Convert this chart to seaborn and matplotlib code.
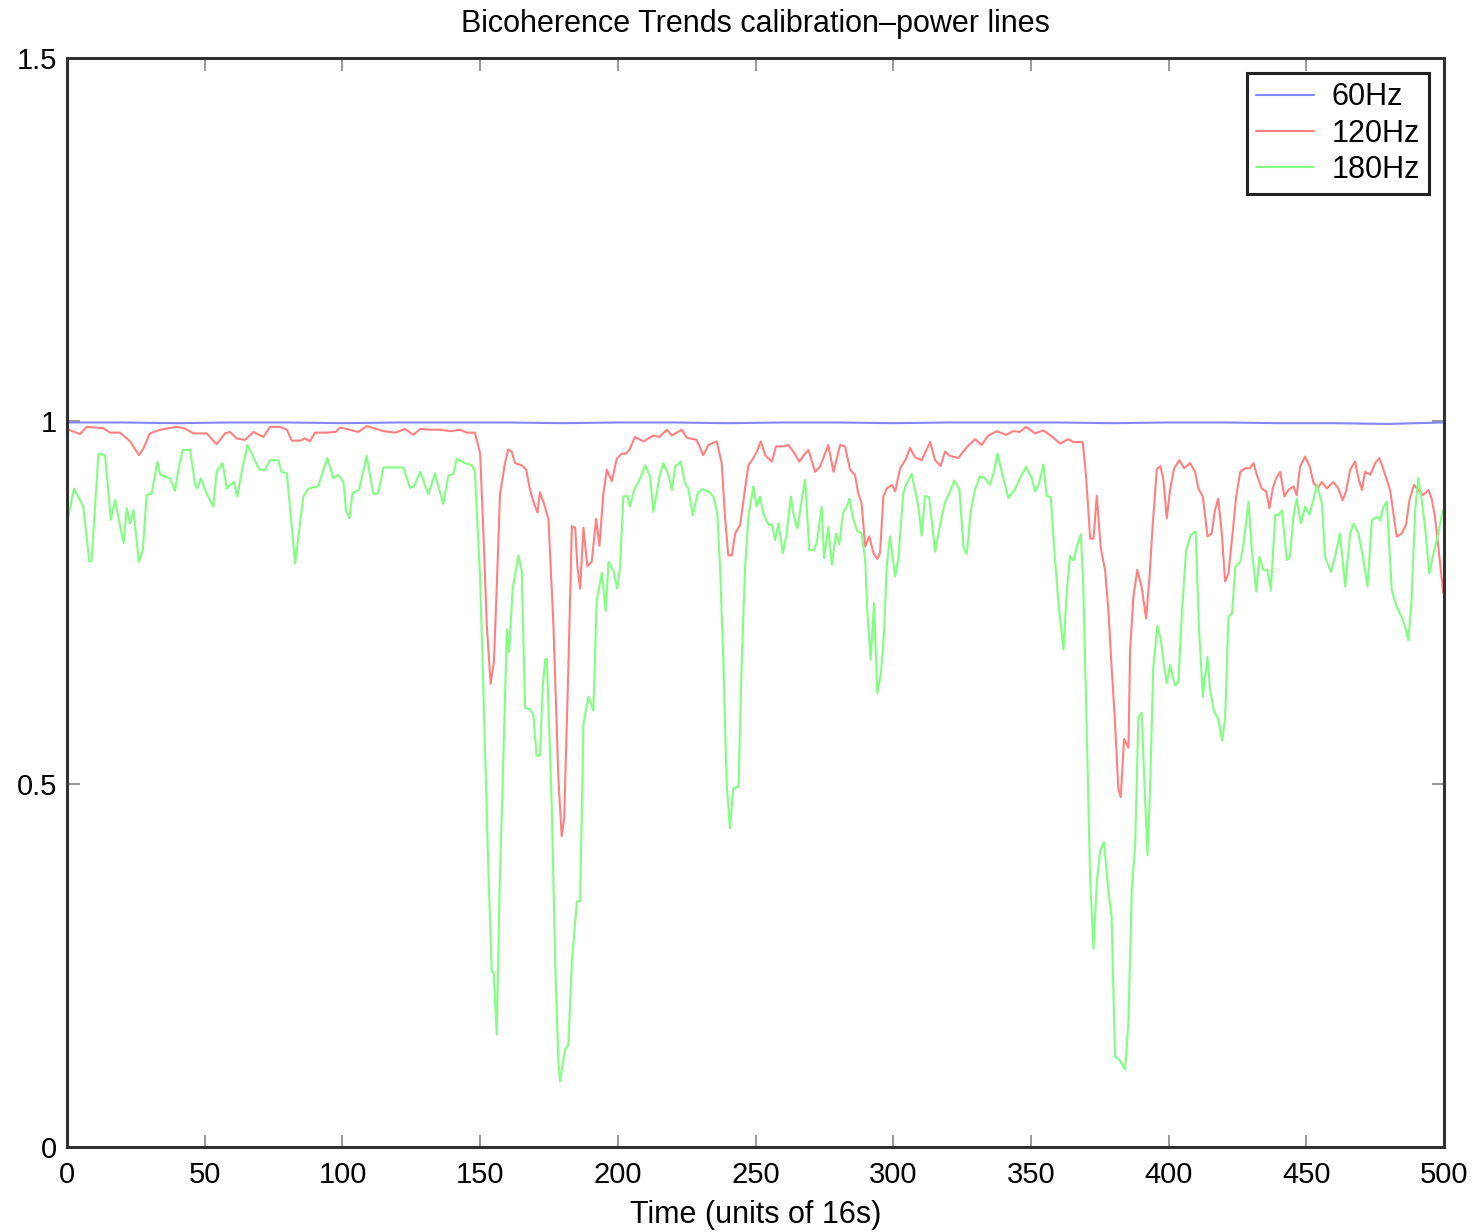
import pandas as pd
import matplotlib.pyplot as plt
import seaborn as sns

# Values
blue_t = [0, 20, 40, 60, 80, 100, 120, 140, 160, 180, 200, 220, 240, 260, 280, 300,
          320, 340, 360, 380, 400, 420, 440, 460, 480, 500]
blue_v = [0.998, 0.998, 0.997, 0.998, 0.998, 0.997, 0.998, 0.998, 0.998, 0.997, 0.998,
          0.998, 0.997, 0.998, 0.998, 0.997, 0.998, 0.998, 0.998, 0.997, 0.998, 0.998,
          0.997, 0.997, 0.996, 0.998]

red_t = [0, 0.5, 4.7, 7.1, 13.2, 15.6, 19.2, 22.9, 26.1, 27.7, 30.1, 33.8, 39.8, 42.5,
         45.9, 50.7, 54.3, 57.4, 59.2, 61.6, 64.6, 67.7, 71.3, 73.7, 77.3, 79.8, 81.6,
         84.6, 86.4, 88.2, 90.0, 94.3, 97.5, 99.1, 101.6, 105.8, 108.8, 111.5, 114.9,
         119.1, 122.7, 125.7, 128.2, 131.8, 135.5, 139.1, 142.7, 145.1, 148.1, 150.0,
         151.2, 152.4, 153.8, 155.0, 156.0, 157.2, 159.0, 160.2, 161.4, 162.7, 165.1,
         166.7, 168.1, 169.6, 170.8, 171.7, 173.2, 174.8, 176.6, 178.4, 179.6, 180.5,
         182.0, 183.3, 184.5, 185.3, 186.3, 187.5, 188.9, 190.5, 192.1, 193.3, 194.7,
         196.0, 197.8, 199.6, 201.4, 203.0, 204.4, 206.2, 209.3, 212.9, 215.0, 217.8,
         219.6, 223.2, 225.0, 228.6, 231.0, 232.9, 235.9, 237.7, 238.9, 240.1, 241.4,
         242.6, 244.4, 245.8, 247.4, 249.2, 250.5, 251.9, 253.5, 255.9, 257.4, 260.1,
         261.9, 263.7, 265.9, 267.5, 269.2, 271.6, 273.4, 276.4, 278.3, 280.7, 282.5,
         284.3, 286.1, 287.3, 288.5, 289.8, 291.3, 292.8, 294.2, 295.2, 296.4, 297.6,
         299.5, 300.7, 302.5, 304.5, 306.1, 307.9, 310.3, 313.4, 315.2, 317.2, 318.8,
         320.6, 323.6, 326.7, 329.7, 332.1, 334.5, 337.6, 340.9, 343.6, 346.0, 348.2,
         351.5, 354.5, 357.5, 360.6, 363.6, 365.4, 368.8, 370.0, 371.5, 372.7, 373.9,
         375.3, 376.9, 378.1, 379.3, 380.5, 381.7, 382.6, 383.8, 385.4, 386.0, 387.2,
         388.6, 390.2, 391.8, 393.0, 394.2, 395.7, 397.0, 398.1, 399.3, 400.5, 402.0,
         403.9, 405.6, 407.8, 409.6, 410.8, 412.4, 414.1, 415.6, 416.8, 418.0, 419.3,
         420.5, 421.7, 422.9, 424.5, 426.0, 427.7, 429.5, 430.8, 432.0, 433.8, 435.4,
         436.6, 437.8, 439.0, 440.5, 442.0, 443.5, 445.3, 446.5, 447.7, 449.5, 451.3,
         452.5, 454.0, 455.6, 457.4, 459.8, 461.6, 463.2, 464.4, 465.9, 467.7, 468.9,
         470.2, 471.3, 473.2, 475.0, 476.5, 478.0, 479.2, 480.4, 481.6, 482.8, 484.6,
         486.2, 487.4, 489.1, 490.6, 492.4, 494.3, 495.5, 496.7, 497.9, 499.7]
red_v = [0.988, 0.988, 0.982, 0.992, 0.990, 0.984, 0.984, 0.972, 0.953, 0.962, 0.983,
         0.988, 0.992, 0.990, 0.983, 0.983, 0.968, 0.983, 0.985, 0.976, 0.974, 0.985,
         0.978, 0.992, 0.992, 0.988, 0.973, 0.973, 0.976, 0.972, 0.984, 0.984, 0.985,
         0.991, 0.989, 0.985, 0.993, 0.990, 0.986, 0.984, 0.989, 0.981, 0.989, 0.988,
         0.988, 0.986, 0.988, 0.984, 0.984, 0.955, 0.843, 0.719, 0.638, 0.669, 0.769,
         0.899, 0.942, 0.961, 0.958, 0.942, 0.939, 0.933, 0.905, 0.886, 0.874, 0.902,
         0.886, 0.865, 0.719, 0.508, 0.428, 0.452, 0.657, 0.855, 0.853, 0.800, 0.769,
         0.853, 0.800, 0.806, 0.865, 0.828, 0.899, 0.933, 0.917, 0.948, 0.955, 0.955,
         0.962, 0.978, 0.972, 0.980, 0.978, 0.988, 0.980, 0.988, 0.977, 0.974, 0.953,
         0.967, 0.972, 0.942, 0.868, 0.815, 0.815, 0.845, 0.857, 0.896, 0.939, 0.949,
         0.958, 0.972, 0.953, 0.944, 0.965, 0.965, 0.967, 0.958, 0.944, 0.953, 0.960,
         0.930, 0.937, 0.967, 0.930, 0.967, 0.965, 0.933, 0.926, 0.900, 0.887, 0.827,
         0.841, 0.818, 0.810, 0.818, 0.896, 0.907, 0.912, 0.903, 0.935, 0.947, 0.963,
         0.950, 0.946, 0.971, 0.946, 0.938, 0.958, 0.952, 0.949, 0.964, 0.975, 0.967,
         0.980, 0.986, 0.981, 0.986, 0.985, 0.992, 0.983, 0.987, 0.979, 0.969, 0.975,
         0.971, 0.971, 0.924, 0.838, 0.838, 0.897, 0.826, 0.795, 0.740, 0.660, 0.586,
         0.494, 0.482, 0.562, 0.550, 0.685, 0.758, 0.795, 0.771, 0.728, 0.783, 0.857,
         0.934, 0.938, 0.919, 0.866, 0.905, 0.935, 0.946, 0.935, 0.942, 0.930, 0.907,
         0.896, 0.841, 0.845, 0.877, 0.893, 0.845, 0.779, 0.790, 0.834, 0.896, 0.930,
         0.935, 0.935, 0.942, 0.926, 0.907, 0.903, 0.880, 0.907, 0.921, 0.930, 0.896,
         0.905, 0.910, 0.898, 0.937, 0.951, 0.937, 0.916, 0.907, 0.916, 0.907, 0.916,
         0.907, 0.891, 0.903, 0.933, 0.944, 0.921, 0.905, 0.930, 0.926, 0.942, 0.949,
         0.933, 0.919, 0.905, 0.873, 0.841, 0.845, 0.857, 0.891, 0.912, 0.905, 0.898,
         0.905, 0.893, 0.868, 0.827, 0.763]

green_t = [0.5, 2.5, 5.9, 8.1, 8.9, 11.4, 13.8, 15.9, 17.4, 19.2, 20.5, 21.7, 22.9, 24.1,
           26.1, 27.5, 28.9, 30.7, 32.8, 33.8, 37.4, 39.2, 40.4, 42.0, 44.7, 46.5, 47.3,
           48.5, 50.7, 53.1, 54.3, 56.5, 58.0, 59.3, 60.6, 61.8, 63.4, 65.5, 67.1, 69.8,
           71.9, 73.7, 76.7, 77.9, 79.8, 82.8, 85.8, 87.6, 91.2, 92.5, 94.5, 96.7, 98.5,
           100.3, 101.3, 102.5, 103.7, 106.0, 108.8, 111.2, 113.0, 114.9, 117.3, 119.7,
           122.1, 124.5, 126.0, 128.2, 131.2, 133.6, 134.8, 136.6, 138.5, 140.3, 141.5,
           144.5, 147.0, 148.1, 150.0, 151.2, 153.0, 154.2, 154.9, 156.0, 157.0, 158.4,
           159.7, 160.5, 161.8, 163.9, 165.1, 166.3, 168.1, 169.3, 170.5, 171.7, 172.7,
           173.6, 174.2, 176.0, 177.2, 178.4, 179.0, 180.8, 182.0, 183.3, 185.1, 186.3,
           187.5, 189.3, 191.1, 192.3, 194.2, 195.6, 196.6, 198.4, 199.8, 200.8, 202.0,
           203.5, 204.4, 205.9, 208.1, 209.9, 211.7, 212.9, 215.1, 216.5, 218.3, 219.6,
           220.8, 222.8, 224.4, 225.6, 227.2, 228.9, 230.5, 232.9, 234.7, 236.1, 237.1,
           238.3, 239.5, 240.7, 241.9, 243.8, 245.0, 246.2, 247.4, 249.2, 250.4, 251.6,
           252.8, 254.7, 255.9, 257.1, 258.3, 259.9, 261.3, 262.8, 263.7, 265.2, 266.8,
           268.0, 269.5, 271.0, 272.2, 274.0, 274.9, 276.4, 277.7, 279.2, 280.4, 281.7,
           283.1, 284.1, 285.3, 287.0, 288.5, 289.8, 290.6, 291.8, 293.0, 294.2, 295.5,
           296.7, 297.6, 298.8, 300.7, 301.9, 303.6, 304.6, 306.7, 307.9, 309.1, 310.3,
           311.5, 313.0, 315.2, 317.0, 318.8, 320.6, 322.1, 324.0, 325.5, 326.7, 328.1,
           329.7, 331.5, 333.3, 335.1, 336.6, 337.8, 339.4, 341.8, 344.2, 346.0, 348.2,
           350.3, 351.5, 352.8, 354.5, 355.7, 357.2, 358.4, 359.9, 361.8, 363.0, 364.2,
           365.4, 366.6, 368.1, 369.0, 370.3, 371.5, 372.7, 373.9, 375.1, 376.5, 378.1,
           379.3, 380.5, 382.3, 384.2, 385.4, 386.6, 387.8, 389.0, 390.2, 391.4, 392.3,
           393.2, 394.4, 395.9, 397.1, 398.4, 399.3, 400.5, 402.3, 403.5, 404.8, 406.3,
           408.0, 409.8, 411.0, 412.4, 414.1, 415.0, 416.5, 418.0, 419.4, 420.5, 421.7,
           423.0, 424.2, 426.0, 427.2, 429.0, 430.2, 431.8, 433.0, 434.4, 435.8, 437.1,
           438.7, 439.8, 441.1, 442.9, 444.0, 445.3, 446.5, 448.0, 449.5, 451.1, 452.5,
           453.8, 455.6, 456.8, 458.9, 460.4, 462.2, 464.1, 465.9, 467.1, 468.9, 470.7,
           472.2, 473.8, 475.6, 476.8, 478.0, 479.2, 481.0, 482.8, 484.6, 485.8, 487.0,
           488.2, 489.5, 490.6, 491.9, 493.1, 494.6, 496.3, 497.9, 499.5, 500.0]
green_v = [0.868, 0.907, 0.882, 0.806, 0.808, 0.955, 0.953, 0.864, 0.891, 0.857, 0.832,
           0.880, 0.859, 0.877, 0.806, 0.822, 0.898, 0.900, 0.944, 0.926, 0.921, 0.904,
           0.933, 0.960, 0.960, 0.912, 0.907, 0.921, 0.900, 0.882, 0.930, 0.942, 0.907,
           0.912, 0.916, 0.896, 0.930, 0.967, 0.955, 0.933, 0.933, 0.946, 0.946, 0.930,
           0.928, 0.804, 0.896, 0.907, 0.910, 0.926, 0.949, 0.921, 0.926, 0.916, 0.877,
           0.866, 0.901, 0.905, 0.952, 0.899, 0.901, 0.936, 0.936, 0.936, 0.936, 0.908,
           0.910, 0.930, 0.899, 0.928, 0.910, 0.886, 0.925, 0.927, 0.948, 0.942, 0.939,
           0.930, 0.781, 0.626, 0.378, 0.242, 0.240, 0.155, 0.347, 0.533, 0.713, 0.682,
           0.769, 0.815, 0.793, 0.605, 0.603, 0.595, 0.539, 0.539, 0.632, 0.672, 0.672,
           0.471, 0.260, 0.118, 0.090, 0.134, 0.140, 0.254, 0.338, 0.339, 0.583, 0.620,
           0.601, 0.753, 0.791, 0.738, 0.806, 0.793, 0.769, 0.800, 0.896, 0.897, 0.882,
           0.905, 0.921, 0.939, 0.923, 0.875, 0.923, 0.942, 0.926, 0.905, 0.937, 0.944,
           0.914, 0.907, 0.870, 0.900, 0.906, 0.903, 0.896, 0.873, 0.799, 0.671, 0.501,
           0.439, 0.494, 0.496, 0.671, 0.799, 0.868, 0.910, 0.882, 0.896, 0.873, 0.857,
           0.858, 0.836, 0.859, 0.818, 0.845, 0.896, 0.873, 0.852, 0.892, 0.919, 0.822,
           0.822, 0.832, 0.882, 0.811, 0.854, 0.802, 0.845, 0.830, 0.873, 0.882, 0.893,
           0.868, 0.848, 0.845, 0.809, 0.735, 0.671, 0.749, 0.625, 0.652, 0.712, 0.799,
           0.841, 0.786, 0.813, 0.900, 0.912, 0.927, 0.905, 0.882, 0.842, 0.897, 0.895,
           0.820, 0.857, 0.888, 0.903, 0.918, 0.906, 0.826, 0.817, 0.875, 0.906, 0.924,
           0.921, 0.912, 0.930, 0.955, 0.930, 0.894, 0.906, 0.921, 0.937, 0.921, 0.903,
           0.912, 0.940, 0.897, 0.895, 0.826, 0.752, 0.685, 0.765, 0.814, 0.808, 0.826,
           0.844, 0.771, 0.568, 0.365, 0.273, 0.365, 0.408, 0.420, 0.353, 0.316, 0.125,
           0.119, 0.107, 0.174, 0.353, 0.414, 0.592, 0.598, 0.482, 0.402, 0.488, 0.660,
           0.718, 0.700, 0.660, 0.639, 0.664, 0.636, 0.640, 0.735, 0.821, 0.843, 0.848,
           0.715, 0.620, 0.675, 0.630, 0.600, 0.590, 0.560, 0.590, 0.730, 0.735, 0.799,
           0.806, 0.832, 0.889, 0.822, 0.765, 0.813, 0.795, 0.795, 0.767, 0.871, 0.870,
           0.877, 0.809, 0.812, 0.868, 0.893, 0.859, 0.882, 0.871, 0.891, 0.912, 0.887,
           0.813, 0.792, 0.813, 0.845, 0.772, 0.845, 0.859, 0.845, 0.809, 0.772, 0.864,
           0.868, 0.863, 0.882, 0.889, 0.767, 0.744, 0.730, 0.717, 0.698, 0.753, 0.877,
           0.921, 0.891, 0.854, 0.790, 0.820, 0.845, 0.877, 0.870]

series_names = ["60Hz", "120Hz", "180Hz"]
xticks = [0, 50, 100, 150, 200, 250, 300, 350, 400, 450, 500]
yticks = [0, 0.5, 1, 1.5]
ytick_labels = ["0", "0.5", "1", "1.5"]

# long-form table for seaborn
df = pd.concat([
    pd.DataFrame({"time": blue_t, "value": blue_v, "series": series_names[0]}),
    pd.DataFrame({"time": red_t, "value": red_v, "series": series_names[1]}),
    pd.DataFrame({"time": green_t, "value": green_v, "series": series_names[2]}),
], ignore_index=True)

sns.set_style("white")
plt.rcParams["font.family"] = ["Liberation Sans", "DejaVu Sans"]
plt.rcParams["text.color"] = "black"
plt.rcParams["xtick.labelcolor"] = "black"
plt.rcParams["ytick.labelcolor"] = "black"

fig = plt.figure(figsize=(14.74, 12.32), dpi=100)
ax = fig.add_axes([0.0455, 0.069, 0.9342, 0.8839])

palette = {"60Hz": "#8484ff", "120Hz": "#ff8080", "180Hz": "#80ff80"}
sns.lineplot(data=df, x="time", y="value", hue="series", palette=palette,
             estimator=None, linewidth=1.5, ax=ax)

ax.set_xlim(0, 500)
ax.set_ylim(0, 1.5)
ax.set_xticks(xticks)
ax.set_yticks(yticks)
ax.set_yticklabels(ytick_labels)
ax.tick_params(direction="in", length=9, width=1.2, color="#888888",
               labelsize=21, labelcolor="black",
               bottom=True, left=True, top=True, right=True, pad=7)
ax.tick_params(axis="x", pad=10)
for s in ax.spines.values():
    s.set_color("#303030")
    s.set_linewidth(2.2)

ax.set_title("Bicoherence Trends calibration\u2013power lines", fontsize=22, pad=19,
             color="black")
ax.set_xlabel("Time (units of 16s)", fontsize=22, labelpad=8, color="black")
ax.set_ylabel("")

leg = ax.legend(loc="upper right", fontsize=22, frameon=True, fancybox=False,
                framealpha=1, edgecolor="#202020", borderaxespad=0.5,
                handlelength=1.9, handletextpad=0.55, labelspacing=0.2,
                borderpad=0.3)
leg.get_frame().set_linewidth(2.2)
for t in leg.get_texts():
    t.set_color("black")

fig.savefig("out.png", dpi=100)
